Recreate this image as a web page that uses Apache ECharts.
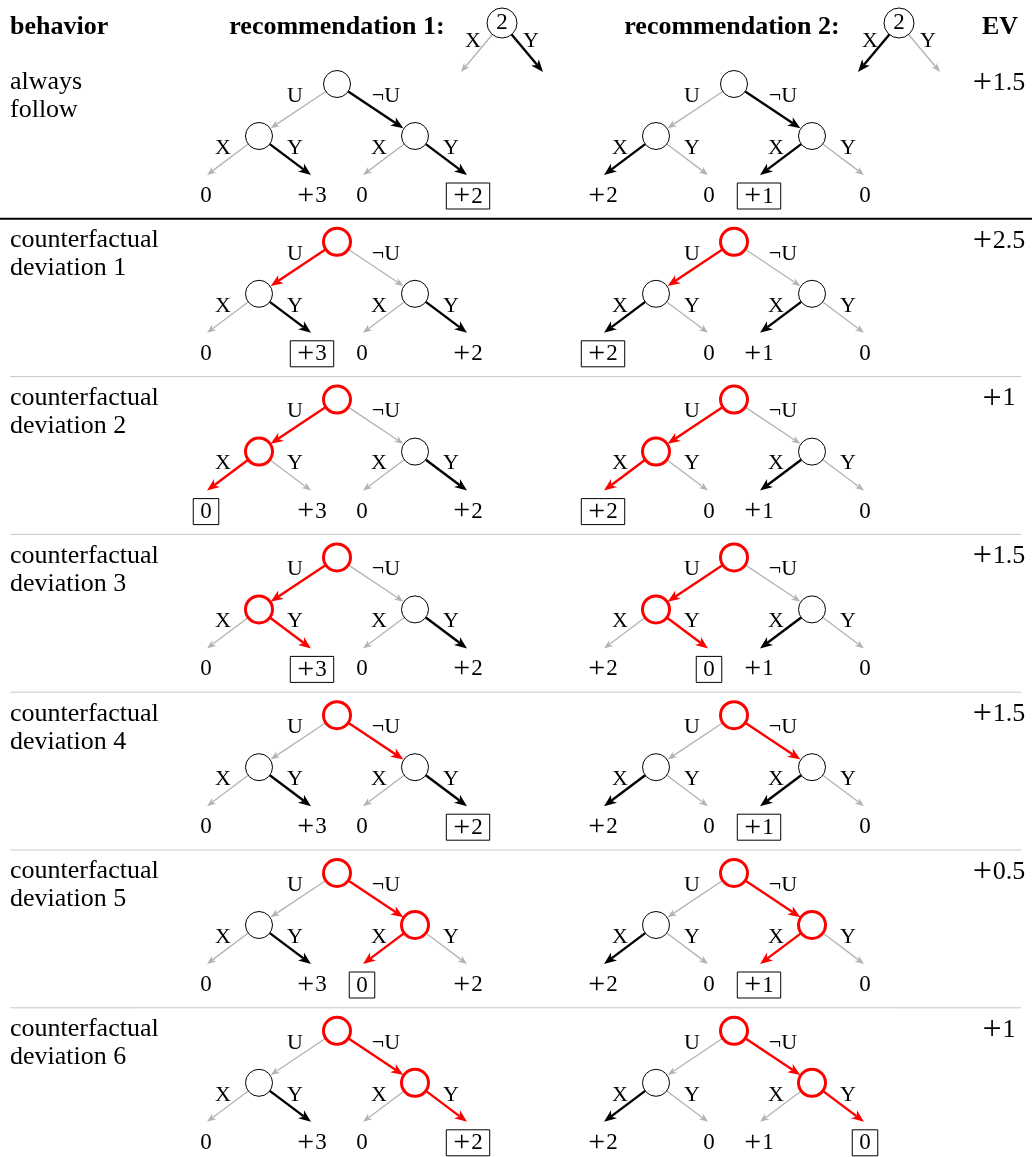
<!DOCTYPE html>
<html><head><meta charset="utf-8">
<script src="https://cdn.jsdelivr.net/npm/echarts@6/dist/echarts.min.js"></script>
<style>html,body{margin:0;padding:0;background:#fff}#c{width:1032px;height:1157px}</style>
</head><body><div id="c"></div>
<script>
// ---------------- DATA ----------------
const headerLabels = ['behavior', 'recommendation 1:', 'recommendation 2:', 'EV'];
const recommendedAction = ['Y', 'X'];           // action recommended at a "2" node
const behaviorLabels = [
  'always\nfollow',
  'counterfactual\ndeviation 1',
  'counterfactual\ndeviation 2',
  'counterfactual\ndeviation 3',
  'counterfactual\ndeviation 4',
  'counterfactual\ndeviation 5',
  'counterfactual\ndeviation 6'
];
const evLabels = ['+1.5', '+2.5', '+1', '+1.5', '+1.5', '+0.5', '+1'];
const rootActions = ['U', '¬U'];
const childActions = ['X', 'Y'];
const rec1Leaves = ['0', '+3', '0', '+2'];
const rec2Leaves = ['+2', '0', '+1', '0'];
// node highlight per row: root, left child, right child (r = deviating / red, k = normal)
const nodeStates = ['kkk', 'rkk', 'rrk', 'rrk', 'rkk', 'rkr', 'rkr'];
// edge colours per row: root->[L,R]  L->[X,Y]  R->[X,Y]   (g grey, k black, r red)
const rec1Edges = ['gk gk gk', 'rg gk gk', 'rg rg gk', 'rg gr gk', 'gr gk gk', 'gr gk rg', 'gr gk gr'];
const rec2Edges = ['gk kg kg', 'rg kg kg', 'rg rg kg', 'rg gr kg', 'gr kg kg', 'gr kg rg', 'gr kg gr'];
const rec1Boxed = [3, 1, 0, 1, 3, 2, 3];
const rec2Boxed = [2, 0, 0, 1, 2, 2, 3];

// ---------------- LAYOUT / STYLE ----------------
const SERIF = '"Liberation Serif","Times New Roman",serif';
const COLORS = { g: '#b3b3b3', k: '#000000', r: '#ff0000' };
const WIDTHS = { g: 1.3, k: 2.4, r: 2.4 };
const rowY = i => 84 + i * 157.8;
const treeX = [337, 734];
const headNodeX = [502, 899];
const R = 13.5, CHILD_DX = 78, CHILD_DY = 52, LEAF_DX = 52, LEAF_DY = 39;

function arrow(api, a, b, code, r0, r1) {
  const pa = api.coord(a), pb = api.coord(b);
  const dx = pb[0] - pa[0], dy = pb[1] - pa[1], len = Math.hypot(dx, dy);
  const ux = dx / len, uy = dy / len, nx = -uy, ny = ux;
  const sx = pa[0] + ux * r0, sy = pa[1] + uy * r0;
  const tx = pb[0] - ux * r1, ty = pb[1] - uy * r1;
  const L = code === 'g' ? 9 : 12.5, Wd = code === 'g' ? 7 : 10;
  const bx = tx - ux * L, by = ty - uy * L;
  const mx = tx - ux * L * 0.72, my = ty - uy * L * 0.72;
  return [
    { type: 'line', shape: { x1: sx, y1: sy, x2: mx, y2: my }, style: { stroke: COLORS[code], lineWidth: WIDTHS[code] } },
    { type: 'polygon', shape: { points: [[tx, ty], [bx + nx * Wd / 2, by + ny * Wd / 2], [mx, my], [bx - nx * Wd / 2, by - ny * Wd / 2]] }, style: { fill: COLORS[code] } }
  ];
}
function txt(api, p, text, font, align, extra) {
  const c = api.coord(p);
  return { type: 'text', x: c[0], y: c[1], style: Object.assign({ text: text, font: font, fill: '#000', align: align || 'center', verticalAlign: 'middle', textAlign: align || 'center', textVerticalAlign: 'middle' }, extra || {}) };
}
// numbers with a wide, thin math-style plus sign
function mathNum(api, p, str, size, extra) {
  const hasPlus = str.charAt(0) === '+';
  const lh = Math.round(size * 0.9);
  const rich = {
    p: { font: Math.round(size * 1.3) + 'px ' + SERIF, fill: '#000', verticalAlign: 'middle', lineHeight: lh, padding: [0, 1, 0, 0] },
    n: { font: size + 'px ' + SERIF, fill: '#000', verticalAlign: 'middle', lineHeight: lh }
  };
  const t = hasPlus ? '{p|+}{n|' + str.slice(1) + '}' : '{n|' + str + '}';
  return txt(api, p, t, size + 'px ' + SERIF, 'center', Object.assign({ rich: rich, lineHeight: lh }, extra || {}));
}

function renderTree(params, api) {
  const row = api.value(0), t = api.value(1);
  const edges = (t === 0 ? rec1Edges : rec2Edges)[row].split(' ');
  const leaves = t === 0 ? rec1Leaves : rec2Leaves;
  const boxed = (t === 0 ? rec1Boxed : rec2Boxed)[row];
  const states = nodeStates[row];
  const rx = treeX[t], ry = rowY(row);
  const nodes = [[rx, ry], [rx - CHILD_DX, ry + CHILD_DY], [rx + CHILD_DX, ry + CHILD_DY]];
  const weak = [], strong = [], circles = [], texts = [];
  [1, 2].forEach((ci, k) => {
    const code = edges[0][k];
    (code === 'g' ? weak : strong).push(...arrow(api, nodes[0], nodes[ci], code, R, R + 0.5));
  });
  [1, 2].forEach((ci) => {
    [0, 1].forEach(side => {
      const code = edges[ci][side];
      const tip = [nodes[ci][0] + (side ? LEAF_DX : -LEAF_DX), nodes[ci][1] + LEAF_DY];
      (code === 'g' ? weak : strong).push(...arrow(api, nodes[ci], tip, code, R, 0));
    });
  });
  nodes.forEach((n, i) => {
    const c = api.coord(n);
    const red = states[i] === 'r';
    circles.push({ type: 'circle', shape: { cx: c[0], cy: c[1], r: R }, style: { fill: '#fff', stroke: red ? '#ff0000' : '#000', lineWidth: red ? 3 : 1 } });
  });
  texts.push(txt(api, [rx - 42, ry + 12], rootActions[0], '22px ' + SERIF));
  texts.push(txt(api, [rx + 49, ry + 12], rootActions[1], '22px ' + SERIF));
  [1, 2].forEach(ci => {
    texts.push(txt(api, [nodes[ci][0] - 36, nodes[ci][1] + 12], childActions[0], '22px ' + SERIF));
    texts.push(txt(api, [nodes[ci][0] + 36, nodes[ci][1] + 12], childActions[1], '22px ' + SERIF));
  });
  leaves.forEach((v, i) => {
    const ci = i < 2 ? 1 : 2;
    const lx = nodes[ci][0] + (i % 2 ? 53 : -53);
    const extra = i === boxed ? { borderColor: '#000', borderWidth: 1, padding: [3, 7, 2, 7] } : {};
    texts.push(mathNum(api, [lx, ry + 112], v, 23, extra));
  });
  return { type: 'group', children: weak.concat(strong, circles, texts) };
}

function renderRow(params, api) {
  const row = api.value(0), ry = rowY(row);
  const ch = [];
  if (row === 1) {
    const a = api.coord([0, ry - 23]), b = api.coord([1032, ry - 23]);
    ch.push({ type: 'line', shape: { x1: a[0], y1: a[1], x2: b[0], y2: b[1] }, style: { stroke: '#000', lineWidth: 2 } });
  } else if (row > 1) {
    const a = api.coord([10, ry - 23]), b = api.coord([1021, ry - 23]);
    ch.push({ type: 'line', shape: { x1: a[0], y1: a[1], x2: b[0], y2: b[1] }, style: { stroke: '#c8c8c8', lineWidth: 1 } });
  }
  const tl = api.coord([10, ry - 15.5]);
  ch.push({ type: 'text', x: tl[0], y: tl[1], style: { text: behaviorLabels[row], font: '26px ' + SERIF, fill: '#000', lineHeight: 28, align: 'left', verticalAlign: 'top', textAlign: 'left', textVerticalAlign: 'top' } });
  ch.push(mathNum(api, [999, ry - 1], evLabels[row], 26));
  return { type: 'group', children: ch };
}

function renderHeader(params, api) {
  const ch = [];
  ch.push(txt(api, [10, 27], headerLabels[0], 'bold 26px ' + SERIF, 'left'));
  ch.push(txt(api, [337, 27], headerLabels[1], 'bold 26px ' + SERIF));
  ch.push(txt(api, [732, 27], headerLabels[2], 'bold 26px ' + SERIF));
  ch.push(txt(api, [1000, 27], headerLabels[3], 'bold 26px ' + SERIF));
  headNodeX.forEach((hx, t) => {
    const node = [hx, 23];
    childActions.forEach((a, side) => {
      const code = recommendedAction[t] === a ? 'k' : 'g';
      const tip = [hx + (side ? 41 : -41), 72];
      ch.push(...arrow(api, node, tip, code, 15, 0));
    });
    const c = api.coord(node);
    ch.push({ type: 'circle', shape: { cx: c[0], cy: c[1], r: 15 }, style: { fill: '#fff', stroke: '#000', lineWidth: 1 } });
    ch.push(txt(api, [hx, 23], '2', '23px ' + SERIF));
    ch.push(txt(api, [hx - 29, 41], childActions[0], '22px ' + SERIF));
    ch.push(txt(api, [hx + 29, 41], childActions[1], '22px ' + SERIF));
  });
  return { type: 'group', children: ch };
}

const rowData = behaviorLabels.map((_, i) => [i, 0]);
const treeData = [];
behaviorLabels.forEach((_, i) => { treeData.push([i, 0]); treeData.push([i, 1]); });

const chart = echarts.init(document.getElementById('c'), null, { renderer: 'canvas' });
chart.setOption({
  animation: false,
  backgroundColor: '#fff',
  grid: { left: 0, right: 0, top: 0, bottom: 0 },
  xAxis: { type: 'value', min: 0, max: 1032, show: false },
  yAxis: { type: 'value', min: 0, max: 1157, inverse: true, show: false },
  series: [
    { type: 'custom', coordinateSystem: 'cartesian2d', data: rowData, renderItem: renderRow, silent: true },
    { type: 'custom', coordinateSystem: 'cartesian2d', data: treeData, renderItem: renderTree, silent: true },
    { type: 'custom', coordinateSystem: 'cartesian2d', data: [[0, 0]], renderItem: renderHeader, silent: true }
  ]
});
</script></body></html>
